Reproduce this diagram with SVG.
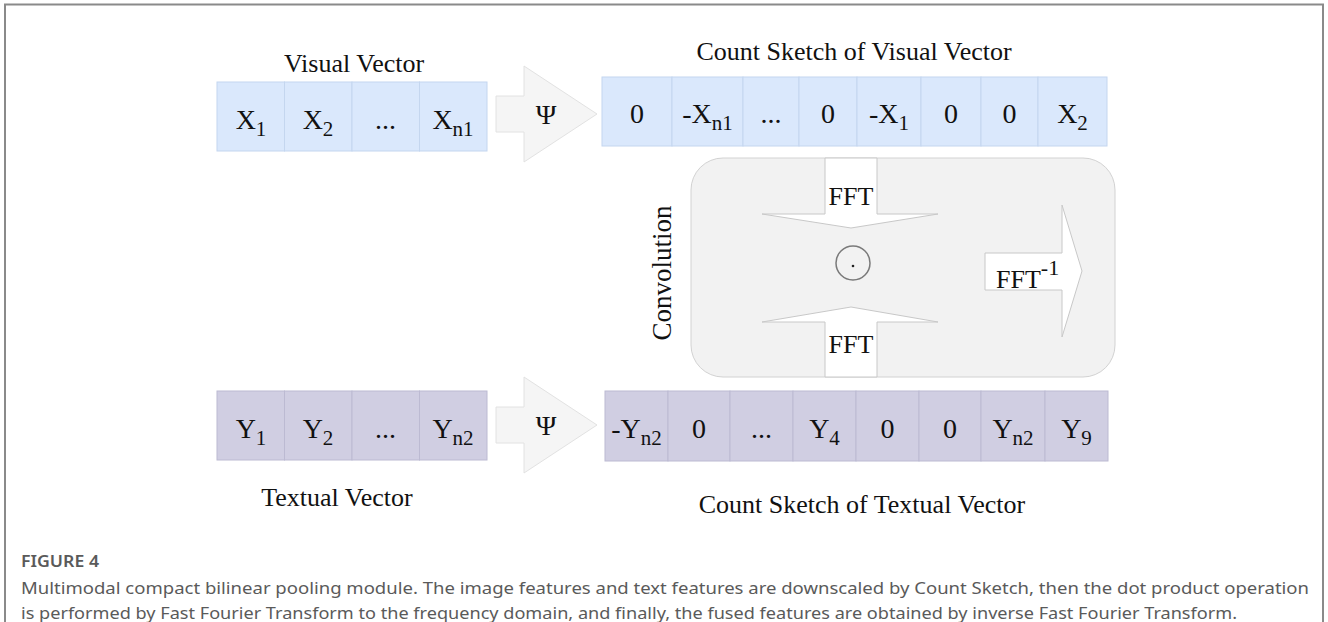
<svg xmlns="http://www.w3.org/2000/svg" width="1328" height="622" viewBox="0 0 1328 622">
  <style>
    .serif { font-family: "Liberation Serif", "Times New Roman", serif; fill: #111; }
    .title { font-size: 26px; text-anchor: middle; }
    .cell-t { font-size: 28px; text-anchor: middle; }
    .sub { font-size: 21px; }
    .vis { fill: #dae8fc; stroke: #c4d6ef; stroke-width: 1; }
    .txt { fill: #d0cee2; stroke: #bcbad2; stroke-width: 1; }
    .psi { fill: #f5f5f5; stroke: #e2e2e2; stroke-width: 1; }
    .fft { fill: #ffffff; stroke: #c8c8c8; stroke-width: 1; }
    .cap { font-family: "Noto Sans", "Open Sans", sans-serif; fill: #5a5a5a; }
  </style>

  <!-- page frame -->
  <path d="M5,622 V4.5 H1323 V622" fill="none" stroke="#8a8a8a" stroke-width="2"/>

  <!-- visual vector -->
  <g id="visual-vector">
    <text class="serif title" x="354" y="72">Visual Vector</text>
    <rect class="vis" x="217" y="82" width="67.5" height="69"/>
    <rect class="vis" x="284.5" y="82" width="67.5" height="69"/>
    <rect class="vis" x="352" y="82" width="67.5" height="69"/>
    <rect class="vis" x="419.5" y="82" width="67.5" height="69"/>
    <text class="serif cell-t" x="251" y="129">X<tspan class="sub" dy="7">1</tspan></text>
    <text class="serif cell-t" x="318" y="129">X<tspan class="sub" dy="7">2</tspan></text>
    <text class="serif cell-t" x="385.5" y="129">...</text>
    <text class="serif cell-t" x="453" y="129">X<tspan class="sub" dy="7">n1</tspan></text>
  </g>

  <!-- textual vector -->
  <g id="textual-vector">
    <rect class="txt" x="217" y="391" width="67.5" height="69"/>
    <rect class="txt" x="284.5" y="391" width="67.5" height="69"/>
    <rect class="txt" x="352" y="391" width="67.5" height="69"/>
    <rect class="txt" x="419.5" y="391" width="67.5" height="69"/>
    <text class="serif cell-t" x="251" y="438">Y<tspan class="sub" dy="7">1</tspan></text>
    <text class="serif cell-t" x="318" y="438">Y<tspan class="sub" dy="7">2</tspan></text>
    <text class="serif cell-t" x="385.5" y="438">...</text>
    <text class="serif cell-t" x="453" y="438">Y<tspan class="sub" dy="7">n2</tspan></text>
    <text class="serif title" x="337" y="506">Textual Vector</text>
  </g>

  <!-- count sketch of visual vector -->
  <g id="sketch-visual">
    <text class="serif title" x="854" y="60">Count Sketch of Visual Vector</text>
    <rect class="vis" x="602" y="77" width="70" height="69"/>
    <rect class="vis" x="672" y="77" width="71" height="69"/>
    <rect class="vis" x="743" y="77" width="56" height="69"/>
    <rect class="vis" x="799" y="77" width="58" height="69"/>
    <rect class="vis" x="857" y="77" width="64" height="69"/>
    <rect class="vis" x="921" y="77" width="60" height="69"/>
    <rect class="vis" x="981" y="77" width="57" height="69"/>
    <rect class="vis" x="1038" y="77" width="69" height="69"/>
    <text class="serif cell-t" x="637" y="123">0</text>
    <text class="serif cell-t" x="707.5" y="123">-X<tspan class="sub" dy="7">n1</tspan></text>
    <text class="serif cell-t" x="771" y="123">...</text>
    <text class="serif cell-t" x="828" y="123">0</text>
    <text class="serif cell-t" x="889" y="123">-X<tspan class="sub" dy="7">1</tspan></text>
    <text class="serif cell-t" x="951" y="123">0</text>
    <text class="serif cell-t" x="1009.5" y="123">0</text>
    <text class="serif cell-t" x="1072.5" y="123">X<tspan class="sub" dy="7">2</tspan></text>
  </g>

  <!-- count sketch of textual vector -->
  <g id="sketch-textual">
    <rect class="txt" x="605" y="391" width="63" height="70"/>
    <rect class="txt" x="668" y="391" width="62" height="70"/>
    <rect class="txt" x="730" y="391" width="63" height="70"/>
    <rect class="txt" x="793" y="391" width="63" height="70"/>
    <rect class="txt" x="856" y="391" width="63" height="70"/>
    <rect class="txt" x="919" y="391" width="62" height="70"/>
    <rect class="txt" x="981" y="391" width="64" height="70"/>
    <rect class="txt" x="1045" y="391" width="63" height="70"/>
    <text class="serif cell-t" x="636.5" y="438">-Y<tspan class="sub" dy="7">n2</tspan></text>
    <text class="serif cell-t" x="699" y="438">0</text>
    <text class="serif cell-t" x="761.5" y="438">...</text>
    <text class="serif cell-t" x="824.5" y="438">Y<tspan class="sub" dy="7">4</tspan></text>
    <text class="serif cell-t" x="887.5" y="438">0</text>
    <text class="serif cell-t" x="950" y="438">0</text>
    <text class="serif cell-t" x="1013" y="438">Y<tspan class="sub" dy="7">n2</tspan></text>
    <text class="serif cell-t" x="1076.5" y="438">Y<tspan class="sub" dy="7">9</tspan></text>
    <text class="serif title" x="862" y="513">Count Sketch of Textual Vector</text>
  </g>

  <!-- convolution block -->
  <g id="convolution">
    <rect x="691" y="158" width="424" height="219" rx="32" ry="32" fill="#f2f2f2" stroke="#d2d2d2" stroke-width="1"/>
    <text class="serif" font-size="27" text-anchor="middle" transform="translate(671 273) rotate(-90)">Convolution</text>
    <circle cx="853" cy="263" r="17" fill="none" stroke="#7a7a7a" stroke-width="1.5"/>
    <circle cx="853" cy="266" r="1.3" fill="#222"/>
  </g>

  <!-- connectors -->
  <g id="connectors">
    <polygon class="psi" points="496,96 524,96 524,66 597,114 524,162 524,132 496,132"/>
    <text class="serif" font-size="28" text-anchor="middle" x="546" y="124">Ψ</text>
    <polygon class="psi" points="496,407 524,407 524,377 597,425 524,473 524,443 496,443"/>
    <text class="serif" font-size="28" text-anchor="middle" x="546" y="435">Ψ</text>
    <polygon class="fft" points="825,158 877,158 877,214 938,214 851,228 762,214 825,214"/>
    <text class="serif" font-size="26" text-anchor="middle" x="851" y="205">FFT</text>
    <polygon class="fft" points="825,377 877,377 877,322 938,322 851,307 762,322 825,322"/>
    <text class="serif" font-size="26" text-anchor="middle" x="851" y="353">FFT</text>
    <polygon class="fft" points="985,253 1062,253 1062,205 1082,271 1062,337 1062,290 985,290"/>
    <text class="serif" font-size="26" x="996" y="288">FFT<tspan font-size="22" dy="-13">-1</tspan></text>
  </g>

  <!-- caption -->
  <g id="caption">
    <text class="cap" x="21" y="567" font-size="16" font-weight="600" fill="#4a4a4a" textLength="78" lengthAdjust="spacingAndGlyphs">FIGURE 4</text>
    <text class="cap" x="21" y="594" font-size="16.5" textLength="1288" lengthAdjust="spacingAndGlyphs">Multimodal compact bilinear pooling module. The image features and text features are downscaled by Count Sketch, then the dot product operation</text>
    <text class="cap" x="21" y="618.5" font-size="16" textLength="1216" lengthAdjust="spacingAndGlyphs">is performed by Fast Fourier Transform to the frequency domain, and finally, the fused features are obtained by inverse Fast Fourier Transform.</text>
  </g>
</svg>
